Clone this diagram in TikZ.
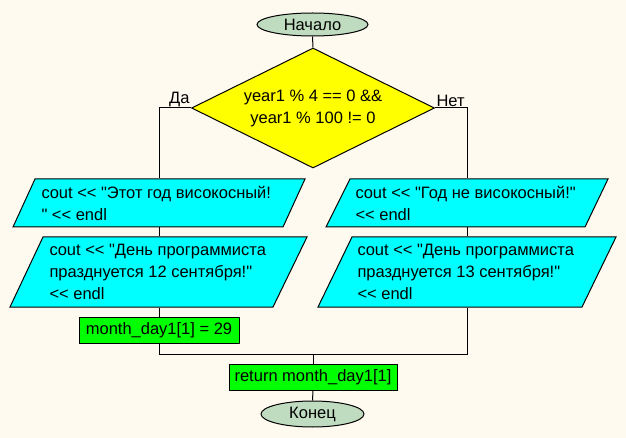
\documentclass[tikz,border=0pt]{standalone}
\usepackage{fontspec}
\defaultfontfeatures{Ligatures=TeXOff}
\setmainfont{Liberation Sans}[Ligatures=TeXOff]
\usetikzlibrary{shapes.geometric,calc}
\definecolor{bgc}{HTML}{FFFAF0}
\definecolor{termc}{HTML}{C0DCC0}
\definecolor{ioc}{HTML}{00FFFF}
\definecolor{procc}{HTML}{00FF00}
\definecolor{decc}{HTML}{FFFF00}
\begin{document}
\begin{tikzpicture}[x=1pt,y=-1pt,line width=1pt,
  font=\fontsize{16.5}{22}\selectfont,
  termbox/.style={ellipse,draw,fill=termc,inner sep=0},
  procbox/.style={rectangle,draw,fill=procc,inner sep=0},
  framebox/.style={rectangle,inner sep=0,minimum width=20},
  iobox/.style={draw,fill=ioc},
  txtbox/.style={anchor=west,align=left,inner sep=0},
  lbl/.style={inner sep=1pt}]
\useasboundingbox[fill=bgc] (0,0) rectangle (626,438);
% frames of the parallelograms
\node[framebox,minimum height=48] (L1) at (159,203) {};
\node[framebox,minimum height=70] (L2) at (159,272) {};
\node[framebox,minimum height=48] (R1) at (467,203) {};
\node[framebox,minimum height=70] (R2) at (467,272) {};
\draw[iobox] ([shift={(-124,-24)}]L1.center) -- ([shift={(146,-24)}]L1.center) -- ([shift={(124,24)}]L1.center) -- ([shift={(-146,24)}]L1.center) -- cycle;
\draw[iobox] ([shift={(-116,-35)}]L2.center) -- ([shift={(148,-35)}]L2.center) -- ([shift={(114,35)}]L2.center) -- ([shift={(-149,35)}]L2.center) -- cycle;
\draw[iobox] ([shift={(-117,-24)}]R1.center) -- ([shift={(141,-24)}]R1.center) -- ([shift={(118,24)}]R1.center) -- ([shift={(-141,24)}]R1.center) -- cycle;
\draw[iobox] ([shift={(-115,-35)}]R2.center) -- ([shift={(149,-35)}]R2.center) -- ([shift={(115,35)}]R2.center) -- ([shift={(-149,35)}]R2.center) -- cycle;
\node[txtbox] (L1t) at (41,203) {cout << "Этот год високосный!\\" << endl};
\node[txtbox] (L2t) at (49,272) {cout << "День программиста\\празднуется 12 сентября!"\\<< endl};
\node[txtbox] (R1t) at (355,203) {cout << "Год не високосный!"\\<< endl};
\node[txtbox] (R2t) at (357,272) {cout << "День программиста\\празднуется 13 сентября!"\\<< endl};
% other nodes
\node[termbox,minimum width=111,minimum height=23] (S) at (312.5,24.5) {Начало};
\node[diamond,draw,fill=decc,aspect=2.025,minimum width=243,minimum height=120,inner sep=0,align=center] (D) at (313,108) {year1 \% 4 == 0 \&\&\\year1 \% 100 != 0};
\node[procbox,minimum width=160,minimum height=26] (M) at (159,330) {month\_day1[1] = 29};
\node[procbox,minimum width=168,minimum height=26] (Ret) at (313,377) {return month\_day1[1]};
\node[termbox,minimum width=103,minimum height=26] (E) at (312.5,414) {Конец};
\node[lbl,anchor=south east] (da) at (D.west) {Да};
\node[lbl,anchor=south west] (net) at (D.east) {Нет};
\coordinate (J) at (313,354);
% connectors
\draw (S.south) -- (D.north);
\draw (D.west) -| (L1.north);
\draw (D.east) -| (R1.north);
\draw (L1.south) -- (L2.north);
\draw (L2.south) -- (M.north);
\draw (R1.south) -- (R2.north);
\draw (M.south) |- (J);
\draw (R2.south) |- (J);
\draw (J) -- (Ret.north);
\draw (Ret.south) -- (E.north);
\end{tikzpicture}
\end{document}
